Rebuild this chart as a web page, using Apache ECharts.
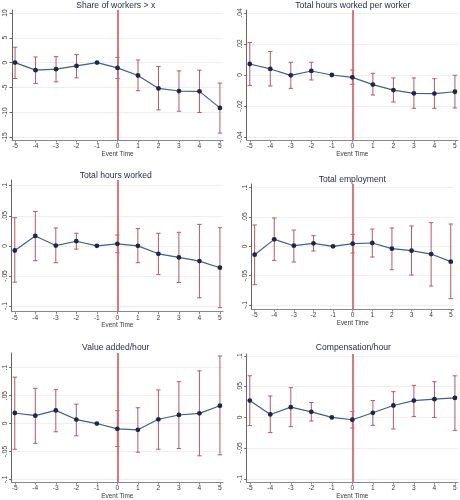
<!DOCTYPE html>
<html><head><meta charset="utf-8">
<script src="https://cdn.jsdelivr.net/npm/echarts@6/dist/echarts.min.js"></script>
<style>html,body{margin:0;padding:0;background:#fff}#c{width:460px;height:500px}</style>
</head><body><div id="c"></div>
<script>
const eventTime = [-5,-4,-3,-2,-1,0,1,2,3,4,5];
const xTicks = [-5,-4,-3,-2,-1,0,1,2,3,4,5];

const titles = ["Share of workers > x","Total hours worked per worker","Total hours worked","Total employment","Value added/hour","Compensation/hour"];

const shareEst = [0,-1.53,-1.33,-0.67,0,-1.07,-2.6,-5.2,-5.73,-5.8,-9.13];
const shareHi  = [3.1,1.13,1.2,1.6,null,1.07,0.53,-0.8,-1.67,-1.53,-4.13];
const shareLo  = [-3.2,-4.2,-3.87,-3.07,null,-3.2,-5.67,-9.53,-9.8,-10.07,-14.2];

const hpwEst = [0.0071,0.0039,-0.0002,0.0026,0,-0.0015,-0.0062,-0.0097,-0.0118,-0.012,-0.0108];
const hpwHi  = [0.0209,0.0151,0.0082,0.0082,null,0.0032,0.0011,-0.0019,-0.0019,-0.0024,-0.0002];
const hpwLo  = [-0.0067,-0.0071,-0.0086,-0.0032,null,-0.006,-0.0129,-0.0174,-0.0215,-0.0215,-0.0213];

const hoursEst = [-0.0077,0.0165,0.0005,0.0077,0,0.0033,0,-0.0132,-0.0192,-0.0253,-0.0363];
const hoursHi  = [0.0467,0.0571,0.0297,0.0209,null,0.0181,0.0286,0.0209,0.0225,0.0357,0.0302];
const hoursLo  = [-0.0604,-0.0247,-0.028,-0.0055,null,-0.0115,-0.028,-0.0478,-0.061,-0.0863,-0.1027];

const empEst = [-0.0142,0.0119,0.0011,0.0051,0,0.0045,0.0057,-0.004,-0.0074,-0.0131,-0.0261];
const empHi  = [0.0364,0.0483,0.0278,0.0182,null,0.0205,0.0295,0.0313,0.0347,0.0403,0.0381];
const empLo  = [-0.0653,-0.0239,-0.0267,-0.008,null,-0.0114,-0.0182,-0.0398,-0.0489,-0.0676,-0.0892];

const vaEst = [0.0188,0.0141,0.0235,0.0071,0,-0.0094,-0.0112,0.0076,0.0153,0.0182,0.0318];
const vaHi  = [0.0829,0.0629,0.0606,0.0347,null,0.0229,0.0282,0.06,0.0747,0.0941,0.1206];
const vaLo  = [-0.0459,-0.0353,-0.0147,-0.0218,null,-0.0412,-0.0512,-0.0459,-0.0447,-0.0576,-0.0559];

const compEst = [0.0274,0.0048,0.0167,0.0091,0,-0.0038,0.0075,0.0194,0.0274,0.0296,0.0317];
const compHi  = [0.0677,0.0349,0.0484,0.0242,null,0.0097,0.0274,0.0419,0.0522,0.0581,0.0677];
const compLo  = [-0.0134,-0.0247,-0.0151,-0.0059,null,-0.0172,-0.0129,-0.0188,0.0016,0,-0.021];

const yTicks1 = [-15,-10,-5,0,5,10];
const yTicks2 = [-0.04,-0.02,0,0.02,0.04];
const yTicks3 = [-0.1,-0.05,0,0.05,0.1];

const panels = [
  {est:shareEst, hi:shareHi, lo:shareLo, ticks:yTicks1},
  {est:hpwEst, hi:hpwHi, lo:hpwLo, ticks:yTicks2},
  {est:hoursEst, hi:hoursHi, lo:hoursLo, ticks:yTicks3},
  {est:empEst, hi:empHi, lo:empLo, ticks:yTicks3},
  {est:vaEst, hi:vaHi, lo:vaLo, ticks:yTicks3},
  {est:compEst, hi:compHi, lo:compLo, ticks:yTicks3}
];

// layout (positions/styles)
const layout = [
  {l:12,   t:10,  w:211,   h:130,   ymin:-15.6,  ymax:10.6,   tx:115.7, ty:5.5},
  {l:246.7,t:10,  w:211.3, h:130,   ymin:-0.0419,ymax:0.0419, tx:352.8, ty:5.5},
  {l:11.7, t:180, w:211.3, h:131.7, ymin:-0.1094,ymax:0.1094, tx:115.7, ty:176},
  {l:251.7,t:184, w:202,   h:125,   ymin:-0.1068,ymax:0.1063, tx:352.3, ty:179.3},
  {l:11.7, t:353, w:211.3, h:130.3, ymin:-0.1046,ymax:0.126,  tx:115.7, ty:347.3},
  {l:246.7,t:354, w:211.3, h:130,   ymin:-0.1053,ymax:0.1032, tx:353.3, ty:347.3}
];

const FONT = "'Liberation Sans', Arial, sans-serif";
const axisCol = '#666';
const lblCol = '#3a3a3a';
const ciCol = '#b45a64';
const redCol = '#dc6672';
const lineCol = '#40608a';
const dotCol = '#1b2846';

function fmt(v){
  if (v === 0) return '0';
  let s = String(+v.toPrecision(6));
  s = s.replace(/^0\./,'.').replace(/^-0\./,'-.');
  return s;
}

const grid=[], xAxis=[], yAxis=[], series=[], graphic=[];
panels.forEach((p,i)=>{
  const L = layout[i];
  grid.push({left:L.l, top:L.t, width:L.w, height:L.h, containLabel:false});
  xAxis.push({
    type:'value', gridIndex:i, min:-5.15, max:5.15,
    name:'Event Time', nameLocation:'middle', nameGap:9,
    nameTextStyle:{fontFamily:FONT, fontSize:6.4, color:lblCol},
    axisLine:{show:true, onZero:false, lineStyle:{color:'#888', width:1}},
    axisTick:{show:true, length:2.5, customValues:xTicks, lineStyle:{color:'#888'}},
    axisLabel:{customValues:xTicks, fontFamily:FONT, fontSize:6.6, color:lblCol, margin:3, formatter:v=>String(v)},
    splitLine:{show:false}
  });
  yAxis.push({
    type:'value', gridIndex:i, min:L.ymin, max:L.ymax,
    axisLine:{show:true, onZero:false, lineStyle:{color:axisCol, width:1}},
    axisTick:{show:true, length:2.5, customValues:p.ticks, lineStyle:{color:axisCol}},
    axisLabel:{customValues:p.ticks, rotate:90, fontFamily:FONT, fontSize:6.6, color:lblCol, margin:3, formatter:fmt},
    splitLine:{show:true, lineStyle:{color:'#eeeeee', width:1}}
  });
  const ciData = [];
  eventTime.forEach((x,j)=>{ if (p.lo[j]!=null) ciData.push([x, p.lo[j], p.hi[j]]); });
  series.push({
    type:'custom', xAxisIndex:i, yAxisIndex:i, z:2, silent:true,
    data:ciData, encode:{x:0, y:[1,2]},
    renderItem:(params, api)=>{
      const x = api.value(0);
      const a = api.coord([x, api.value(2)]);
      const b = api.coord([x, api.value(1)]);
      const w = 2.2;
      const st = {stroke:ciCol, lineWidth:1};
      return {type:'group', children:[
        {type:'line', shape:{x1:a[0],y1:a[1],x2:b[0],y2:b[1]}, style:st},
        {type:'line', shape:{x1:a[0]-w,y1:a[1],x2:a[0]+w,y2:a[1]}, style:st},
        {type:'line', shape:{x1:b[0]-w,y1:b[1],x2:b[0]+w,y2:b[1]}, style:st}
      ]};
    },
    markLine:{silent:true, symbol:'none', label:{show:false}, z:3,
      lineStyle:{color:redCol, width:1.8, type:'solid'},
      data:[{xAxis:0}]}
  });
  series.push({
    type:'line', xAxisIndex:i, yAxisIndex:i, z:5, silent:true,
    data:eventTime.map((x,j)=>[x, p.est[j]]),
    symbol:'circle', symbolSize:4.8,
    itemStyle:{color:dotCol},
    lineStyle:{color:lineCol, width:1.2},
    animation:false
  });
  graphic.push({type:'text', x:L.tx, y:L.ty, silent:true,
    style:{text:titles[i], fontFamily:FONT, fontSize:8.6, fill:'#27304a', align:'center', verticalAlign:'middle'}});
});

const chart = echarts.init(document.getElementById('c'), null, {renderer:'canvas'});
chart.setOption({backgroundColor:'#fff', animation:false, grid, xAxis, yAxis, series, graphic});
</script>
</body></html>
